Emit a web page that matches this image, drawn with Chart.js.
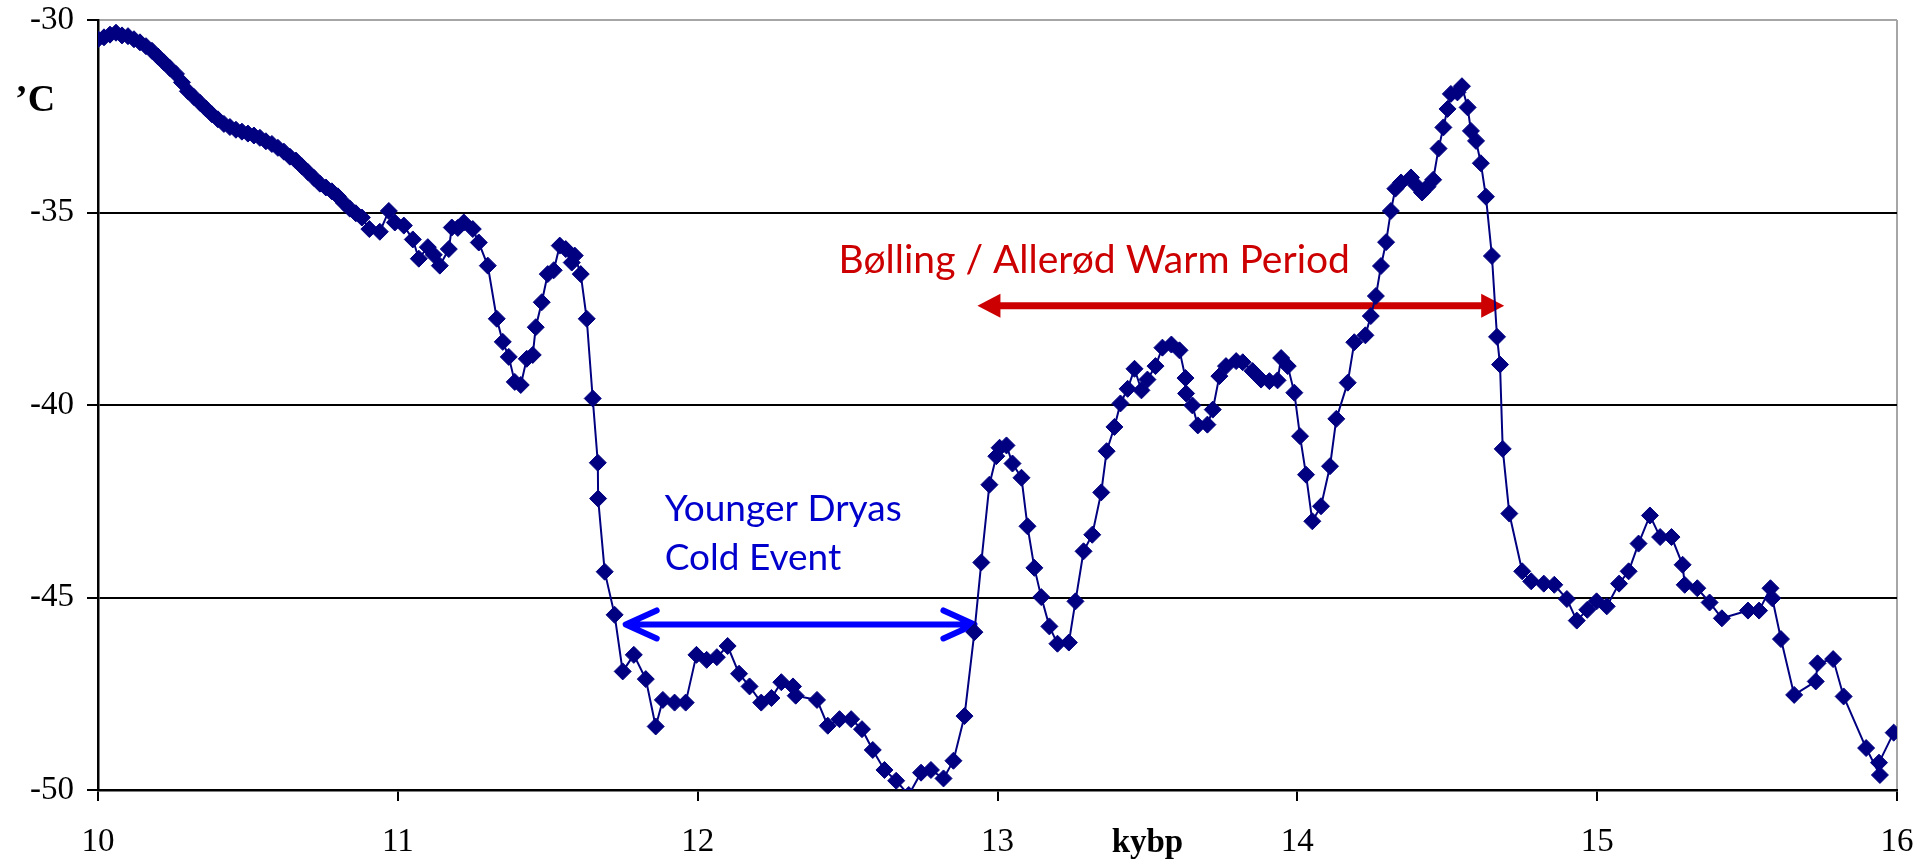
<!DOCTYPE html>
<html>
<head>
<meta charset="utf-8">
<script src="https://cdn.jsdelivr.net/npm/chart.js@4/dist/chart.umd.min.js"></script>
<style>
  html, body { margin: 0; padding: 0; background: #fff; }
  #wrap { width: 1926px; height: 866px; }
</style>
</head>
<body>
<div id="wrap"><canvas id="chart" width="1926" height="866"></canvas></div>
<script>
// kybp (thousand years before present)
const kybp = [
  10.00, 10.02, 10.04, 10.06, 10.08, 10.10, 10.12, 10.14, 10.16, 10.18,
  10.20, 10.22, 10.24, 10.26, 10.28, 10.30, 10.32, 10.34, 10.36, 10.38,
  10.40, 10.42, 10.44, 10.46, 10.48, 10.50, 10.52, 10.54, 10.56, 10.58,
  10.60, 10.62, 10.64, 10.66, 10.68, 10.70, 10.72, 10.74, 10.76, 10.78,
  10.80, 10.82, 10.84, 10.86, 10.88, 10.905, 10.94, 10.97, 10.99, 11.02,
  11.05, 11.07, 11.10, 11.12, 11.14, 11.17, 11.18, 11.20, 11.22, 11.25,
  11.27, 11.30, 11.33, 11.35, 11.37, 11.39, 11.41, 11.43, 11.45, 11.46,
  11.48, 11.50, 11.52, 11.54, 11.56, 11.58, 11.59, 11.61, 11.63, 11.65,
  11.667, 11.668, 11.69, 11.723, 11.75, 11.787, 11.827, 11.86, 11.884, 11.923,
  11.96, 11.996, 12.03, 12.064, 12.10, 12.138, 12.173, 12.212, 12.246, 12.279,
  12.318, 12.327, 12.398, 12.434, 12.473, 12.512, 12.548, 12.584, 12.623, 12.662,
  12.704, 12.745, 12.778, 12.82, 12.853, 12.89, 12.923, 12.946, 12.973, 12.996,
  13.007, 13.03, 13.05, 13.08, 13.10, 13.123, 13.146, 13.173, 13.20, 13.238,
  13.26, 13.287, 13.316, 13.346, 13.364, 13.39, 13.41, 13.434, 13.457, 13.48,
  13.50, 13.527, 13.55, 13.58, 13.607, 13.627, 13.629, 13.65, 13.668, 13.70,
  13.718, 13.74, 13.762, 13.796, 13.818, 13.851, 13.879, 13.907, 13.934, 13.946,
  13.968, 13.99, 14.009, 14.029, 14.05, 14.079, 14.109, 14.13, 14.168, 14.19,
  14.227, 14.245, 14.262, 14.279, 14.296, 14.312, 14.327, 14.346, 14.379, 14.396,
  14.416, 14.434, 14.453, 14.471, 14.487, 14.501, 14.512, 14.534, 14.549, 14.568,
  14.579, 14.596, 14.612, 14.629, 14.649, 14.666, 14.676, 14.685, 14.707, 14.75,
  14.78, 14.822, 14.857, 14.899, 14.932, 14.967, 14.998, 15.032, 15.073, 15.105,
  15.138, 15.176, 15.21, 15.248, 15.285, 15.292, 15.334, 15.375, 15.416, 15.503,
  15.54, 15.578, 15.584, 15.613, 15.657, 15.729, 15.735, 15.787, 15.822, 15.897,
  15.943, 15.94, 15.989
];

// temperature, °C
const temps = [
  -30.50, -30.45, -30.38, -30.33, -30.40, -30.42, -30.50, -30.58, -30.68, -30.80,
  -30.95, -31.10, -31.25, -31.40, -31.62, -31.85, -32.00, -32.15, -32.30, -32.45,
  -32.58, -32.70, -32.78, -32.85, -32.90, -32.95, -33.00, -33.06, -33.15, -33.22,
  -33.32, -33.42, -33.55, -33.65, -33.80, -33.95, -34.10, -34.25, -34.35, -34.45,
  -34.58, -34.75, -34.90, -35.02, -35.13, -35.43, -35.50, -34.96, -35.26, -35.34,
  -35.70, -36.20, -35.90, -36.10, -36.38, -35.95, -35.39, -35.40, -35.26, -35.43,
  -35.78, -36.38, -37.76, -38.36, -38.75, -39.40, -39.48, -38.80, -38.70, -37.98,
  -37.33, -36.60, -36.50, -35.86, -35.95, -36.30, -36.12, -36.60, -37.76, -39.83,
  -41.50, -42.43, -44.33, -45.45, -46.92, -46.49, -47.12, -48.35, -47.66, -47.73,
  -47.73, -46.49, -46.62, -46.55, -46.26, -46.98, -47.31, -47.73, -47.61, -47.20,
  -47.31, -47.55, -47.66, -48.33, -48.16, -48.16, -48.42, -48.96, -49.48, -49.76,
  -50.13, -49.55, -49.48, -49.70, -49.24, -48.08, -45.90, -44.09, -42.07, -41.33,
  -41.11, -41.05, -41.52, -41.89, -43.15, -44.23, -44.99, -45.75, -46.20, -46.17,
  -45.10, -43.80, -43.37, -42.27, -41.20, -40.57, -39.96, -39.58, -39.06, -39.62,
  -39.34, -38.99, -38.51, -38.43, -38.58, -39.30, -39.70, -40.01, -40.53, -40.51,
  -40.12, -39.25, -38.99, -38.86, -38.89, -39.12, -39.34, -39.38, -39.36, -38.78,
  -38.99, -39.68, -40.81, -41.81, -43.02, -42.63, -41.59, -40.36, -39.42, -38.37,
  -38.19, -37.69, -37.17, -36.39, -35.77, -34.96, -34.38, -34.22, -34.09, -34.29,
  -34.48, -34.33, -34.15, -33.34, -32.79, -32.31, -31.92, -31.88, -31.72, -32.27,
  -32.88, -33.14, -33.72, -34.59, -36.13, -38.23, -38.95, -41.14, -42.82, -44.32,
  -44.58, -44.64, -44.67, -45.04, -45.60, -45.32, -45.10, -45.23, -44.64, -44.32,
  -43.60, -42.87, -43.43, -43.43, -44.15, -44.67, -44.76, -45.13, -45.54, -45.34,
  -45.34, -44.76, -45.02, -46.08, -47.53, -47.18, -46.71, -46.60, -47.57, -48.91,
  -49.61, -49.29, -48.51
];

const xTicks = [10, 11, 12, 13, 14, 15, 16];
const yTicks = [-50, -45, -40, -35, -30];

// annotation arrows and labels, in data units
const warmArrow = { from: 12.933, to: 14.69, y: -37.42 };
const coldArrow = { from: 11.76, to: 12.923, y: -45.7 };
const warmLabel = { text: 'Bølling / Allerød Warm Period', x: 12.47, y: -36.58 };
const coldLabel = { lines: ['Younger Dryas', 'Cold Event'], x: 11.89, y: [-43.02, -44.29] };

const serif = '"Liberation Serif", "Times New Roman", serif';
const sans = 'Lato, "Open Sans", sans-serif';

const annotations = {
  id: 'annotations',
  beforeDatasetsDraw(chart) {
    const { ctx, scales: { x, y } } = chart;
    ctx.save();

    // red arrow, filled triangle heads
    let x1 = x.getPixelForValue(warmArrow.from), x2 = x.getPixelForValue(warmArrow.to);
    let py = y.getPixelForValue(warmArrow.y);
    ctx.strokeStyle = '#cc0000';
    ctx.fillStyle = '#cc0000';
    ctx.lineWidth = 7;
    ctx.beginPath();
    ctx.moveTo(x1 + 20, py);
    ctx.lineTo(x2 - 20, py);
    ctx.stroke();
    ctx.beginPath();
    ctx.moveTo(x1, py); ctx.lineTo(x1 + 23, py - 12); ctx.lineTo(x1 + 23, py + 12); ctx.closePath();
    ctx.fill();
    ctx.beginPath();
    ctx.moveTo(x2, py); ctx.lineTo(x2 - 23, py - 12); ctx.lineTo(x2 - 23, py + 12); ctx.closePath();
    ctx.fill();

    // blue arrow, open chevron heads
    x1 = x.getPixelForValue(coldArrow.from);
    x2 = x.getPixelForValue(coldArrow.to);
    py = y.getPixelForValue(coldArrow.y);
    ctx.strokeStyle = '#0000ff';
    ctx.lineWidth = 6;
    ctx.lineCap = 'round';
    ctx.lineJoin = 'round';
    ctx.beginPath();
    ctx.moveTo(x1 + 2, py); ctx.lineTo(x2 - 2, py);
    ctx.moveTo(x1 + 31, py - 14); ctx.lineTo(x1, py); ctx.lineTo(x1 + 31, py + 14);
    ctx.moveTo(x2 - 31, py - 14); ctx.lineTo(x2, py); ctx.lineTo(x2 - 31, py + 14);
    ctx.stroke();

    // labels
    ctx.textAlign = 'left';
    ctx.textBaseline = 'alphabetic';
    ctx.fillStyle = '#cc0000';
    ctx.font = '39px ' + sans;
    ctx.fillText(warmLabel.text, x.getPixelForValue(warmLabel.x), y.getPixelForValue(warmLabel.y));

    ctx.fillStyle = '#0000cc';
    ctx.font = '37px ' + sans;
    coldLabel.lines.forEach((t, i) => {
      ctx.fillText(t, x.getPixelForValue(coldLabel.x), y.getPixelForValue(coldLabel.y[i]));
    });
    ctx.restore();
  },
  afterDraw(chart) {
    const { ctx, chartArea, scales: { x } } = chart;
    ctx.save();
    ctx.fillStyle = '#000';
    ctx.textBaseline = 'alphabetic';
    // unit label, top left
    ctx.textAlign = 'left';
    ctx.font = 'bold 38px ' + serif;
    ctx.fillText('\u2019C', 15, 111);
    // axis title
    ctx.textAlign = 'center';
    ctx.font = 'bold 33px ' + serif;
    ctx.fillText('kybp', x.getPixelForValue(13.5), chartArea.bottom + 62);
    ctx.restore();
  }
};

new Chart(document.getElementById('chart'), {
  type: 'line',
  data: {
    datasets: [{
      data: kybp.map((k, i) => ({ x: k, y: temps[i] })),
      borderColor: '#000080',
      borderWidth: 2,
      backgroundColor: '#000080',
      pointStyle: 'rectRot',
      pointRadius: 8.5,
      pointBorderWidth: 1,
      pointBorderColor: '#000080',
      pointBackgroundColor: '#000080',
      tension: 0,
      fill: false
    }]
  },
  options: {
    responsive: false,
    animation: false,
    layout: { padding: { top: 20, right: 29, left: 0, bottom: 0 } },
    plugins: { legend: { display: false }, tooltip: { enabled: false } },
    scales: {
      x: {
        type: 'linear',
        min: 10, max: 16,
        afterFit: s => { s.height = 76; s.paddingLeft = 0; s.paddingRight = 0; },
        afterBuildTicks: s => { s.ticks = xTicks.map(v => ({ value: v })); },
        ticks: { color: '#000', font: { family: serif, size: 33 }, padding: 22 },
        grid: {
          color: c => (c.tick && c.tick.value === 16 ? '#a6a6a6' : 'rgba(0,0,0,0)'),
          tickColor: '#000',
          lineWidth: 2,
          tickLength: 11
        },
        border: { color: '#000', width: 2.5 }
      },
      y: {
        min: -50, max: -30,
        afterFit: s => { s.width = 98; s.paddingTop = 0; s.paddingBottom = 0; },
        afterBuildTicks: s => { s.ticks = yTicks.map(v => ({ value: v })); },
        ticks: { color: '#000', font: { family: serif, size: 33 }, padding: 13 },
        grid: {
          color: c => (c.tick && c.tick.value === -30 ? '#a6a6a6' : '#000'),
          tickColor: '#000',
          lineWidth: 2,
          tickLength: 11
        },
        border: { color: '#000', width: 2.5 }
      }
    }
  },
  plugins: [annotations]
});
</script>
</body>
</html>
